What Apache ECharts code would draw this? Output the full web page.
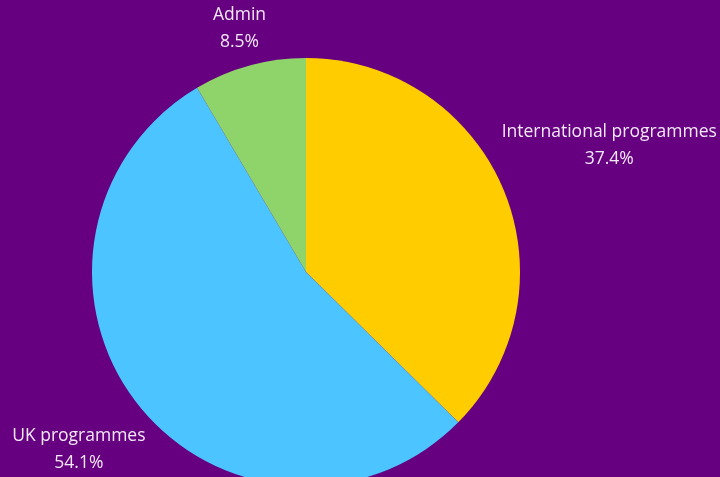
<!DOCTYPE html>
<html>
<head>
<meta charset="utf-8">
<script src="https://cdn.jsdelivr.net/npm/echarts@6/dist/echarts.min.js"></script>
<style>
html,body{margin:0;padding:0;background:#660080;}
#main{width:720px;height:477px;}
</style>
</head>
<body>
<div id="main"></div>
<script>
var categories = ['International programmes', 'UK programmes', 'Admin'];
var values = [37.4, 54.1, 8.5];
var colors = ['#ffcc00', '#4cc4ff', '#8fd46b'];

var chart = echarts.init(document.getElementById('main'), null, {renderer: 'canvas'});
var data = categories.map(function (c, i) {
  return {name: c, value: values[i], itemStyle: {color: colors[i]}};
});
var gap = 5;
chart.setOption({
  backgroundColor: '#660080',
  animation: false,
  series: [{
    type: 'pie',
    center: [306, 272],
    radius: 214,
    startAngle: 90,
    clockwise: true,
    avoidLabelOverlap: false,
    data: data,
    label: {
      show: true,
      position: 'outside',
      formatter: function (p) { return p.name + '\n' + p.value.toFixed(1) + '%'; },
      color: '#f3e9f7',
      fontFamily: 'Open Sans',
      fontSize: 17.5,
      lineHeight: 27
    },
    labelLine: {show: false},
    emphasis: {disabled: true},
    labelLayout: function (p) {
      var lay = chart.getModel().getSeriesByIndex(0).getData().getItemLayout(p.dataIndex);
      if (!lay) return {};
      var mid = (lay.startAngle + lay.endAngle) / 2;
      var dx = Math.cos(mid), dy = Math.sin(mid);
      var w = p.labelRect.width, h = p.labelRect.height;
      var ext = Math.abs(dx) * w / 2 + Math.abs(dy) * h / 2;
      var d = lay.r + gap + ext;
      return {x: lay.cx + d * dx, y: lay.cy + d * dy, align: 'center', verticalAlign: 'middle'};
    }
  }]
});
</script>
</body>
</html>
